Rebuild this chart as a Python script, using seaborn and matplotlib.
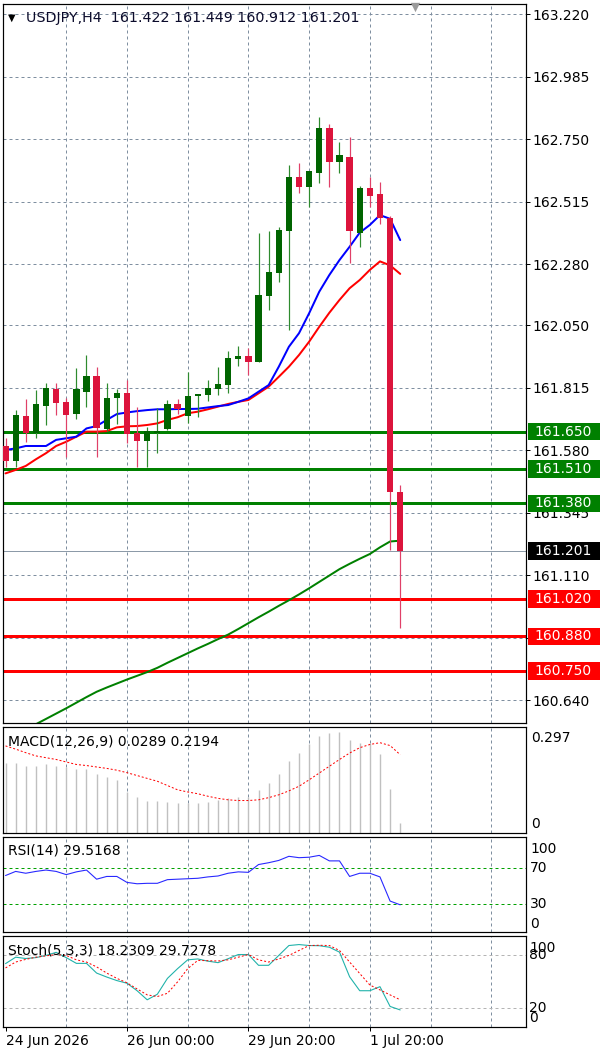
import numpy as np
import matplotlib
matplotlib.use("Agg")
import matplotlib.pyplot as plt
import matplotlib.transforms as mtransforms
from matplotlib.patches import Rectangle
import seaborn as sns

# ---------------- data ----------------
symbol = "USDJPY,H4"
opens = [161.596, 161.541, 161.709, 161.646, 161.746, 161.809, 161.763, 161.716, 161.800, 161.859,
         161.659, 161.775, 161.796, 161.644, 161.616, 161.645, 161.659, 161.754, 161.709, 161.784,
         161.788, 161.810, 161.825, 161.922, 161.934, 161.913, 162.161, 162.247, 162.404, 162.608,
         162.571, 162.623, 162.790, 162.662, 162.684, 162.398, 162.565, 162.543, 162.454, 161.422]
highs = [161.626, 161.731, 161.771, 161.806, 161.832, 161.832, 161.775, 161.888, 161.938, 161.892,
         161.832, 161.809, 161.845, 161.744, 161.668, 161.738, 161.769, 161.773, 161.875, 161.792,
         161.844, 161.892, 161.954, 161.973, 161.963, 162.396, 162.404, 162.418, 162.652, 162.661,
         162.630, 162.834, 162.806, 162.738, 162.756, 162.573, 162.608, 162.590, 162.460, 161.449]
lows = [161.517, 161.518, 161.612, 161.625, 161.675, 161.713, 161.553, 161.696, 161.744, 161.553,
        161.653, 161.679, 161.608, 161.518, 161.518, 161.569, 161.656, 161.716, 161.684, 161.706,
        161.766, 161.788, 161.797, 161.897, 161.863, 161.913, 162.107, 162.214, 162.032, 162.546,
        162.496, 162.586, 162.571, 162.623, 162.285, 162.345, 162.496, 162.429, 161.205, 160.912]
closes = [161.541, 161.712, 161.646, 161.753, 161.815, 161.759, 161.712, 161.809, 161.859, 161.662,
          161.775, 161.796, 161.642, 161.616, 161.653, 161.650, 161.754, 161.734, 161.785, 161.792,
          161.815, 161.829, 161.926, 161.934, 161.913, 162.164, 162.249, 162.408, 162.608, 162.571,
          162.630, 162.790, 162.662, 162.690, 162.404, 162.565, 162.537, 162.454, 161.422, 161.201]
ma_fast = [161.581, 161.587, 161.596, 161.596, 161.596, 161.619, 161.625, 161.631, 161.662, 161.671,
           161.694, 161.716, 161.722, 161.727, 161.731, 161.734, 161.734, 161.735, 161.735, 161.736,
           161.741, 161.746, 161.750, 161.762, 161.775, 161.800, 161.825, 161.894, 161.969, 162.020,
           162.095, 162.176, 162.239, 162.295, 162.345, 162.398, 162.427, 162.464, 162.450, 162.370]
ma_slow = [161.493, 161.506, 161.521, 161.546, 161.569, 161.596, 161.612, 161.631, 161.650, 161.650,
           161.652, 161.666, 161.670, 161.671, 161.675, 161.681, 161.694, 161.704, 161.719, 161.725,
           161.734, 161.744, 161.754, 161.762, 161.769, 161.794, 161.819, 161.856, 161.894, 161.938,
           161.988, 162.044, 162.097, 162.145, 162.189, 162.220, 162.258, 162.290, 162.275, 162.243]
ma_long = [160.488, 160.509, 160.529, 160.550, 160.570, 160.590, 160.610, 160.631, 160.652, 160.672,
           160.688, 160.703, 160.718, 160.732, 160.746, 160.762, 160.781, 160.799, 160.817, 160.835,
           160.852, 160.870, 160.887, 160.908, 160.930, 160.952, 160.973, 160.995, 161.016, 161.038,
           161.061, 161.085, 161.109, 161.133, 161.153, 161.172, 161.190, 161.215, 161.237, 161.240]
macd_main = [0.195, 0.195, 0.189, 0.189, 0.192, 0.187, 0.185, 0.178, 0.178, 0.164,
             0.156, 0.149, 0.114, 0.102, 0.091, 0.091, 0.087, 0.083, 0.083, 0.085,
             0.088, 0.093, 0.097, 0.100, 0.102, 0.121, 0.140, 0.166, 0.203, 0.225,
             0.249, 0.271, 0.279, 0.282, 0.260, 0.251, 0.253, 0.220, 0.124, 0.0289]
macd_signal = [0.244, 0.235, 0.225, 0.216, 0.211, 0.206, 0.199, 0.192, 0.189, 0.185,
               0.181, 0.176, 0.169, 0.161, 0.153, 0.145, 0.133, 0.121, 0.115, 0.110,
               0.103, 0.097, 0.093, 0.091, 0.091, 0.093, 0.099, 0.107, 0.118, 0.131,
               0.149, 0.168, 0.187, 0.206, 0.224, 0.239, 0.248, 0.253, 0.245, 0.2194]
rsi_vals = [61.5, 66.0, 64.0, 66.0, 67.5, 66.0, 62.5, 65.5, 67.5, 57.5,
            60.5, 60.5, 54.0, 52.5, 53.0, 53.0, 57.0, 57.5, 58.0, 58.5,
            60.0, 61.0, 64.0, 65.5, 65.0, 73.5, 75.5, 78.0, 82.5, 81.0,
            81.5, 83.5, 77.5, 77.5, 60.5, 64.0, 64.0, 60.0, 33.6, 29.5168]
stoch_main = [70.7, 78.0, 76.5, 77.5, 80.0, 83.5, 77.5, 71.0, 71.0, 60.0,
              55.5, 51.5, 48.5, 40.0, 29.7, 36.0, 54.0, 65.0, 75.0, 76.0,
              73.5, 71.8, 76.3, 81.0, 81.0, 68.8, 68.8, 80.0, 91.2, 92.3,
              91.2, 91.0, 89.3, 83.7, 55.8, 40.0, 40.0, 44.6, 22.2, 18.2309]
stoch_signal = [65.8, 72.5, 75.5, 78.0, 79.5, 81.0, 80.0, 75.0, 72.5, 67.0,
                60.0, 54.0, 49.0, 42.0, 35.3, 33.4, 37.1, 50.0, 65.0, 74.4,
                74.0, 73.7, 75.0, 78.0, 81.0, 75.0, 72.5, 76.0, 80.0, 85.6,
                91.2, 91.5, 91.2, 85.6, 72.5, 59.5, 46.5, 40.9, 35.3, 29.7278]
support_levels = [161.650, 161.510, 161.380]
target_levels = [161.020, 160.880, 160.750]
current_price = 161.201
price_ticks = [163.220, 162.985, 162.750, 162.515, 162.280, 162.050, 161.815,
               161.580, 161.345, 161.110, 160.875, 160.640]
hidden_tick_labels = [160.875]  # covered by the 160.880 box in the original
time_labels = ["24 Jun 2026", "26 Jun 00:00", "29 Jun 20:00", "1 Jul 20:00"]
time_label_bars = [0, 12, 24, 36]
bars_per_day = 6

# ---------------- style ----------------
sns.set_style("white")
plt.rcParams['font.family'] = ['DejaVu Sans']
PX = 0.72  # one pixel in points at dpi 100

GRID_C = '#7f8fa0'
UP_C, DN_C = '#006400', '#DC143C'
UP_W, DN_W = '#2e8b2e', '#e04068'

W, H = 600, 1050
fig = plt.figure(figsize=(6, 10.5), dpi=100)
fig.patch.set_facecolor('white')


def axes_px(x0, y0, x1, y1):
    return fig.add_axes([x0 / W, 1 - y1 / H, (x1 - x0) / W, (y1 - y0) / H])


ax = axes_px(3, 4, 526, 723)
ax_macd = axes_px(3, 727, 526, 833)
ax_rsi = axes_px(3, 837, 526, 932)
ax_st = axes_px(3, 936, 526, 1027)
axes = [ax, ax_macd, ax_rsi, ax_st]

n = len(opens)
idx = np.arange(n)
xlim = (-0.25, 51.43)
vgrid = np.arange(bars_per_day, xlim[1], bars_per_day)

for a in axes:
    a.set_xlim(*xlim)
    a.set_facecolor('white')
    for s in a.spines.values():
        s.set_color('black')
        s.set_linewidth(1.2 * PX)
    for g in vgrid:
        a.axvline(g, color=GRID_C, lw=PX, ls=(0, (3, 3)), zorder=0.5)
    a.tick_params(axis='x', bottom=False, labelbottom=False)
    a.set_xlabel('')
    a.set_ylabel('')

# ---------------- main price panel ----------------
ax.set_ylim(160.5546, 163.2576)
ax.yaxis.tick_right()
ax.set_yticks(price_ticks)
ax.set_yticklabels(["" if v in hidden_tick_labels else f"{v:.3f}" for v in price_ticks])
ax.tick_params(axis='y', direction='out', length=4 * PX, width=PX, pad=2,
               labelsize=10, colors='black')
for v in price_ticks:
    ax.axhline(v, color=GRID_C, lw=PX, ls=(0, (3, 3)), zorder=0.5)

# bid line
ax.axhline(current_price, color='#8c9aa8', lw=PX, zorder=0.8)

# horizontal levels
for v in support_levels:
    ax.axhline(v, color='#008000', lw=3 * PX, zorder=1)
for v in target_levels:
    ax.axhline(v, color='#FF0000', lw=3 * PX, zorder=1)

# moving averages
sns.lineplot(x=idx, y=ma_long, ax=ax, color='#008000', lw=2 * PX, zorder=2)
sns.lineplot(x=idx, y=ma_slow, ax=ax, color='#FF0000', lw=2 * PX, zorder=2)
sns.lineplot(x=idx, y=ma_fast, ax=ax, color='#0000FF', lw=2 * PX, zorder=2)

# candles
o, h, l, c = map(np.asarray, (opens, highs, lows, closes))
up = c >= o
ax.vlines(idx[up], l[up], h[up], color=UP_W, lw=1.2 * PX, zorder=3)
ax.vlines(idx[~up], l[~up], h[~up], color=DN_W, lw=1.2 * PX, zorder=3)
body_lo = np.minimum(o, c)
body_h = np.maximum(np.abs(c - o), 0.006)
cols = np.where(up, UP_C, DN_C)
ax.bar(idx, body_h, bottom=body_lo, width=0.62, color=cols, linewidth=0, zorder=4)
ax.set_xlim(*xlim)
ax.set_xlabel('')
ax.set_ylabel('')

# price boxes on the right axis
blend = mtransforms.blended_transform_factory(ax.transAxes, ax.transData)
box_h = 17.5 / 266.0
bx0, bw = (527.5 - 3) / 523, (599.5 - 527.5) / 523
boxes = [(v, '#008000') for v in support_levels] + \
        [(v, '#FF0000') for v in target_levels] + [(current_price, '#000000')]
for v, col in boxes:
    ax.add_patch(Rectangle((bx0, v - box_h / 2), bw, box_h, transform=blend,
                           facecolor=col, edgecolor='none', clip_on=False, zorder=10))
    ax.text(bx0 + bw / 2, v, f"{v:.3f}", transform=blend, ha='center', va='center',
            fontsize=10, color='white', zorder=11, clip_on=False)

# chart-shift marker
ax.scatter([40.5], [163.2576 - 0.012], marker='v', s=45, color='#9a9a9a',
           clip_on=False, zorder=12, linewidths=0)

# header
fig.text(8 / W, 1 - 18 / H, "\u25BC", fontsize=7, color='black', va='center')
fig.text(26 / W, 1 - 18 / H,
         f"{symbol}  {opens[-1]:.3f} {highs[-1]:.3f} {lows[-1]:.3f} {closes[-1]:.3f}",
         fontsize=10.3, color='#0b0b2b', va='center')

# ---------------- MACD ----------------
ax_macd.set_ylim(0, 0.297)
ax_macd.vlines(idx, 0, macd_main, color='#c0c0c0', lw=1.4 * PX, zorder=2)
sns.lineplot(x=idx, y=macd_signal, ax=ax_macd, color='#FF0000', lw=PX,
             ls=(0, (2, 2)), zorder=3)
ax_macd.set_yticks([])
ax_macd.set_xlabel('')
ax_macd.set_ylabel('')
ax_macd.text((8 - 3) / 523, 0.858, f"MACD(12,26,9) {macd_main[-1]:.4f} {macd_signal[-1]:.4f}",
             transform=ax_macd.transAxes, fontsize=10, va='center', ha='left', color='black')
ax_macd.text((531 - 3) / 523, 0.896, "0.297", transform=ax_macd.transAxes,
             fontsize=10, va='center', ha='left', color='black')
ax_macd.text((531 - 3) / 523, 0.085, "0", transform=ax_macd.transAxes,
             fontsize=10, va='center', ha='left', color='black')

# ---------------- RSI ----------------
ax_rsi.set_ylim(-0.2, 103.6)
for lv in (70, 30):
    ax_rsi.axhline(lv, color='#00a000', lw=PX, ls=(0, (3, 3)), zorder=1)
sns.lineplot(x=idx, y=rsi_vals, ax=ax_rsi, color='#2828ff', lw=1.1 * PX, zorder=3)
ax_rsi.set_yticks([])
ax_rsi.set_xlabel('')
ax_rsi.set_ylabel('')
ax_rsi.text((8 - 3) / 523, 0.853, f"RSI(14) {rsi_vals[-1]:.4f}",
            transform=ax_rsi.transAxes, fontsize=10, va='center', ha='left', color='black')
for lab, fy in (("100", 0.874), ("70", 0.674), ("30", 0.295), ("0", 0.084)):
    ax_rsi.text((530 - 3) / 523, fy, lab, transform=ax_rsi.transAxes,
                fontsize=10, va='center', ha='left', color='black')

# ---------------- Stochastic ----------------
ax_st.set_ylim(-1.1, 102)
for lv in (80, 20):
    ax_st.axhline(lv, color='#b4b4b4', lw=PX, ls=(0, (3, 3)), zorder=1)
sns.lineplot(x=idx, y=stoch_main, ax=ax_st, color='#20B2AA', lw=1.1 * PX, zorder=3)
sns.lineplot(x=idx, y=stoch_signal, ax=ax_st, color='#FF0000', lw=PX,
             ls=(0, (2, 2)), zorder=3)
ax_st.set_yticks([])
ax_st.set_ylabel('')
ax_st.text((8 - 3) / 523, 0.838, f"Stoch(5,3,3) {stoch_main[-1]:.4f} {stoch_signal[-1]:.4f}",
           transform=ax_st.transAxes, fontsize=10, va='center', ha='left', color='black')
for lab, fy in (("100", 0.871), ("80", 0.788), ("20", 0.205), ("0", 0.096)):
    ax_st.text((529 - 3) / 523, fy, lab, transform=ax_st.transAxes,
               fontsize=10, va='center', ha='left', color='black')

ax_st.set_xticks(time_label_bars)
ax_st.set_xticklabels(time_labels, ha='left')
ax_st.tick_params(axis='x', bottom=True, labelbottom=True, direction='out',
                  length=4 * PX, width=PX, pad=2, labelsize=10, colors='black')
ax_st.set_xlabel('')
ax_st.set_xlim(*xlim)

fig.savefig("out.png", dpi=100, facecolor='white')
